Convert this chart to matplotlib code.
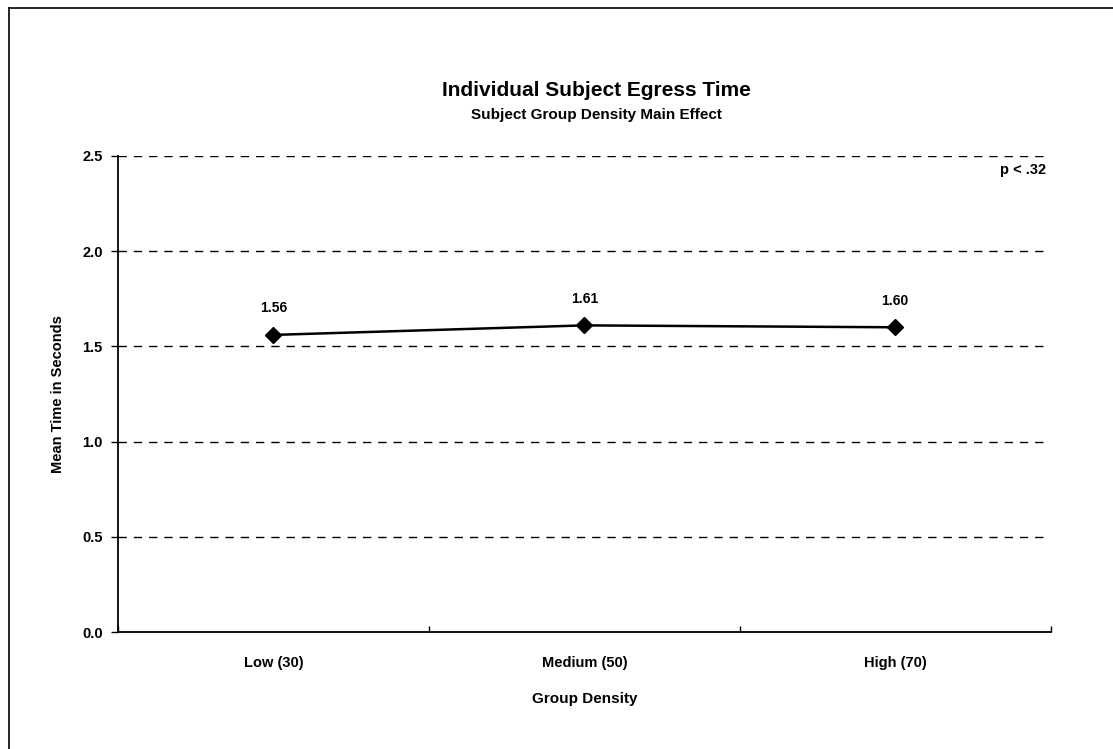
import numpy as np
import matplotlib.pyplot as plt
from matplotlib.lines import Line2D

plt.rcParams['font.family'] = ['Liberation Sans', 'DejaVu Sans']
plt.rcParams['font.weight'] = 'bold'

categories = ['Low (30)', 'Medium (50)', 'High (70)']
mean_time = [1.56, 1.61, 1.60]
value_labels = ['1.56', '1.61', '1.60']
yticks = [0.0, 0.5, 1.0, 1.5, 2.0, 2.5]

fig = plt.figure(figsize=(11.13, 7.49), dpi=100)
ax = fig.add_axes([0.106, 0.156, 0.838, 0.636])

x = np.arange(len(categories)) + 0.5
ax.plot(x, mean_time, color='black', lw=1.8, marker='D', ms=8, zorder=3)
for xi, yi, lab in zip(x, mean_time, value_labels):
    ax.annotate(lab, (xi, yi), xytext=(0, 14), textcoords='offset points',
                ha='center', va='bottom', fontsize=10, fontweight='bold')

for yv in yticks[1:]:
    ax.axhline(yv, xmin=0, xmax=0.995, color='black', lw=1, ls=(0, (6, 5)), zorder=1)

ax.set_xlim(0, 3)
ax.set_ylim(0, 2.5)
ax.set_yticks(yticks)
ax.set_yticklabels(['%.1f' % v for v in yticks], fontsize=10.5, fontweight='bold')
ax.set_xticks(x)
ax.set_xticklabels(categories, fontsize=10.5, fontweight='bold')
ax.tick_params(axis='x', which='major', length=0, pad=17)
ax.set_xticks([0, 1, 2, 3], minor=True)
ax.tick_params(axis='x', which='minor', length=4, direction='in', width=1)
ax.tick_params(axis='y', length=5, width=1, pad=6)

for s in ['top', 'right']:
    ax.spines[s].set_visible(False)
for s in ['left', 'bottom']:
    ax.spines[s].set_linewidth(1.3)

ax.set_xlabel('Group Density', fontsize=11, fontweight='bold', labelpad=16)
ax.set_ylabel('Mean Time in Seconds', fontsize=10.5, fontweight='bold', labelpad=12)

ax.text(0.995, 0.985, 'p < .32', transform=ax.transAxes, ha='right', va='top',
        fontsize=10.5, fontweight='bold')

fig.text(0.536, 0.879, 'Individual Subject Egress Time', ha='center', va='center',
         fontsize=15, fontweight='bold')
fig.text(0.536, 0.846, 'Subject Group Density Main Effect', ha='center', va='center',
         fontsize=11, fontweight='bold')

# page frame from the scan
fig.add_artist(Line2D([0.008, 0.008], [0.0, 0.989], transform=fig.transFigure, color='black', lw=1.2))
fig.add_artist(Line2D([0.008, 1.0], [0.989, 0.989], transform=fig.transFigure, color='black', lw=1.2))

fig.savefig('out.png', dpi=100)
